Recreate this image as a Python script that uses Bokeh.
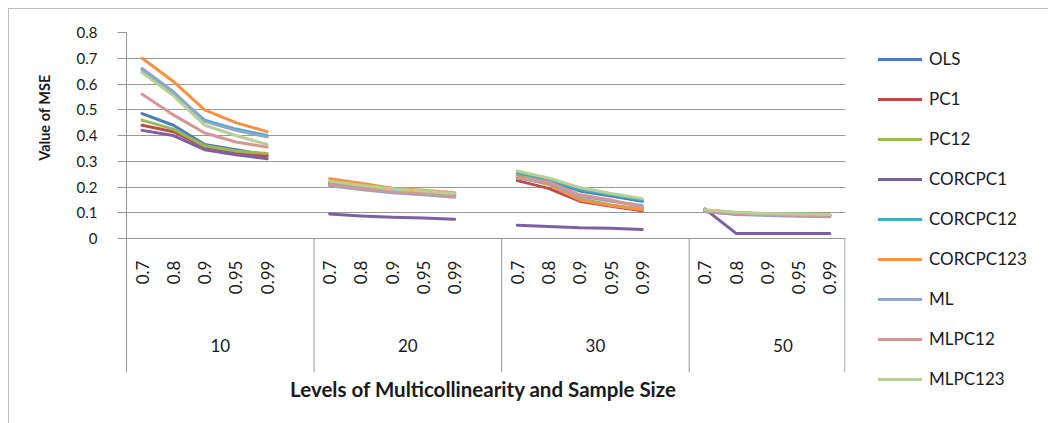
import numpy as np
from bokeh.plotting import figure
from bokeh.models import (Range1d, FixedTicker, Legend, LegendItem, Title,
                          NumeralTickFormatter)
from bokeh.core.properties import value
from bokeh.embed import file_html
from bokeh.resources import INLINE

# ---------------- data ----------------
sample_sizes = ["10", "20", "30", "50"]
levels = ["0.7", "0.8", "0.9", "0.95", "0.99"]
y_ticks = [0, 0.1, 0.2, 0.3, 0.4, 0.5, 0.6, 0.7, 0.8]

# values per series: 5 levels for n=10, then n=20, n=30, n=50
ols       = [0.485, 0.44, 0.365, 0.345, 0.325,  0.215, 0.200, 0.185, 0.180, 0.170,  0.245, 0.225, 0.185, 0.165, 0.145,  0.110, 0.100, 0.095, 0.093, 0.090]
pc1       = [0.440, 0.415, 0.355, 0.335, 0.320, 0.210, 0.195, 0.180, 0.175, 0.165,  0.225, 0.195, 0.145, 0.125, 0.108,  0.105, 0.095, 0.092, 0.090, 0.088]
pc12      = [0.460, 0.425, 0.360, 0.340, 0.330, 0.220, 0.205, 0.190, 0.182, 0.173,  0.250, 0.215, 0.155, 0.130, 0.115,  0.110, 0.100, 0.096, 0.094, 0.092]
corcpc1   = [0.420, 0.400, 0.345, 0.325, 0.310, 0.095, 0.088, 0.083, 0.080, 0.075,  0.052, 0.047, 0.042, 0.040, 0.035,  0.115, 0.020, 0.020, 0.020, 0.020]
corcpc12  = [0.655, 0.565, 0.460, 0.425, 0.400, 0.220, 0.205, 0.190, 0.183, 0.172,  0.255, 0.230, 0.190, 0.170, 0.150,  0.110, 0.100, 0.095, 0.093, 0.090]
corcpc123 = [0.700, 0.610, 0.500, 0.450, 0.415, 0.232, 0.215, 0.195, 0.188, 0.178,  0.240, 0.210, 0.150, 0.128, 0.112,  0.110, 0.100, 0.095, 0.093, 0.090]
ml        = [0.660, 0.570, 0.455, 0.420, 0.395, 0.205, 0.190, 0.178, 0.170, 0.160,  0.235, 0.215, 0.165, 0.145, 0.128,  0.105, 0.093, 0.090, 0.087, 0.085]
mlpc12    = [0.560, 0.480, 0.410, 0.375, 0.355, 0.210, 0.195, 0.182, 0.175, 0.165,  0.238, 0.220, 0.170, 0.150, 0.122,  0.108, 0.097, 0.093, 0.090, 0.088]
mlpc123   = [0.645, 0.555, 0.440, 0.400, 0.365, 0.222, 0.207, 0.192, 0.185, 0.175,  0.262, 0.235, 0.198, 0.175, 0.155,  0.112, 0.102, 0.097, 0.095, 0.093]

series_names = ["OLS", "PC1", "PC12", "CORCPC1", "CORCPC12", "CORCPC123", "ML", "MLPC12", "MLPC123"]
series_values = [ols, pc1, pc12, corcpc1, corcpc12, corcpc123, ml, mlpc12, mlpc123]
series_colors = ["#4A7EBB", "#BE4B48", "#98B954", "#7D60A0", "#46AAC5",
                 "#F69240", "#8EA5CE", "#D49796", "#B8D094"]

FONT = "Lato"
GRID = "#979797"
TEXT = "#1a1a1a"

n_lv = len(levels)
slots = n_lv + 1                      # one blank slot after each group
x_end = len(sample_sizes) * slots - 1  # last group has no trailing blank
y_min = -0.52

p = figure(frame_width=719, frame_height=340,
           x_range=Range1d(0, x_end), y_range=Range1d(y_min, 0.8),
           output_backend="svg", toolbar_location=None,
           min_border_left=117, min_border_right=203, min_border_top=23, min_border_bottom=51,
           margin=(8, 0, 0, 8),
           styles={"border-left": "1px solid #bdbdbd", "border-top": "1px solid #bdbdbd"})
p.outline_line_color = None
p.xgrid.visible = False

# y axis
p.yaxis.ticker = FixedTicker(ticks=y_ticks)
p.yaxis.formatter = NumeralTickFormatter(format="0.[0]")
p.yaxis.axis_line_color = GRID
p.yaxis.major_tick_line_color = GRID
p.yaxis.major_tick_out = 9
p.yaxis.major_tick_in = 0
p.yaxis.minor_tick_line_color = None
p.yaxis.major_label_standoff = 20
p.yaxis.major_label_text_font = FONT
p.yaxis.major_label_text_font_size = "15px"
p.yaxis.major_label_text_color = TEXT
p.ygrid.ticker = FixedTicker(ticks=y_ticks[:-1])
p.ygrid.grid_line_color = GRID

# x axis (only the title)
p.xaxis.ticker = FixedTicker(ticks=[])
p.xaxis.axis_line_color = None
p.xaxis.major_tick_line_color = None
p.xaxis.minor_tick_line_color = None
p.xaxis.axis_label = "Levels of Multicollinearity  and Sample Size"
p.xaxis.axis_label_text_font = FONT
p.xaxis.axis_label_text_font_size = "20.5px"
p.xaxis.axis_label_text_font_style = "bold"
p.xaxis.axis_label_text_color = TEXT
p.xaxis.axis_label_standoff = 4

ytitle = Title(text="Value of MSE", align="right", offset=42, standoff=42, text_font=FONT,
               text_font_size="14.5px", text_font_style="bold", text_color=TEXT)
p.add_layout(ytitle, "left")

# category positions
slot_x = [g * slots + i + 0.5 for g in range(len(sample_sizes)) for i in range(n_lv)]
group_x = [g * slots + slots / 2 for g in range(len(sample_sizes))]
bounds = [g * slots for g in range(1, len(sample_sizes))] + [x_end - 0.02]

# separators of the category table
p.segment(x0=bounds, y0=[0] * len(bounds), x1=bounds, y1=[y_min] * len(bounds),
          line_color=GRID, line_width=1)

# level labels (rotated) and sample size labels
p.text(x=slot_x, y=[0] * len(slot_x), text=levels * len(sample_sizes), angle=np.pi / 2,
       text_align="right", text_baseline="middle", y_offset=22,
       text_font=value(FONT), text_font_size="17px", text_color=TEXT)
p.text(x=group_x, y=[0] * len(group_x), text=sample_sizes, text_align="center",
       text_baseline="middle", y_offset=107,
       text_font=value(FONT), text_font_size="17px", text_color=TEXT)

# lines, broken between groups
items = []
for name, vals, col in zip(series_names, series_values, series_colors):
    xs, ys = [], []
    for g in range(len(sample_sizes)):
        for i in range(n_lv):
            xs.append(slot_x[g * n_lv + i])
            ys.append(vals[g * n_lv + i])
        if g < len(sample_sizes) - 1:
            xs.append(np.nan)
            ys.append(np.nan)
    r = p.line(xs, ys, line_color=col, line_width=3, line_join="round", line_cap="round")
    items.append(LegendItem(label=name, renderers=[r]))

legend = Legend(items=items, location=(33, -17), orientation="vertical", ncols=1,
                glyph_width=44, glyph_height=20, label_height=20, spacing=19,
                label_standoff=7, padding=0, margin=0,
                label_text_font=FONT, label_text_font_size="17px", label_text_color=TEXT,
                border_line_color=None, background_fill_alpha=0)
p.add_layout(legend, "right")

open("out.html", "w").write(file_html(p, INLINE))
